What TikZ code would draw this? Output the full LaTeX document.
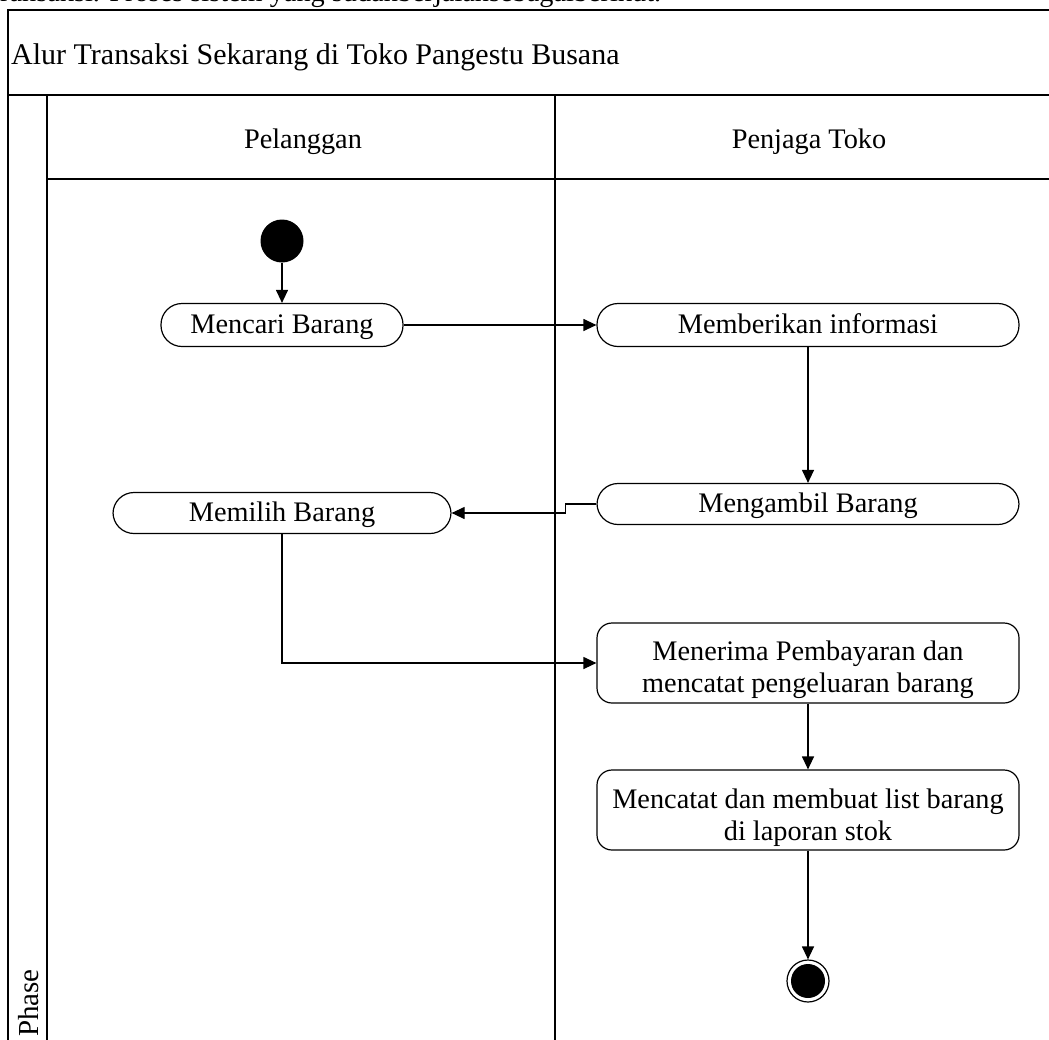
\documentclass[tikz,border=0pt]{standalone}
\usepackage{fontspec}
\setmainfont{Liberation Serif}
\usetikzlibrary{arrows.meta}
\begin{document}
\begin{tikzpicture}[x=1pt,y=-1pt,
  every node/.style={font=\fontsize{28.3}{32}\selectfont},
  lane/.style={line width=1.6pt},
  act/.style={draw, line width=1.2pt, rounded corners=21pt, minimum height=43pt, inner sep=0pt, text height=19.5pt, text depth=2pt},
  act2/.style={draw, line width=1.2pt, rounded corners=15pt, minimum height=80pt, minimum width=422pt, inner sep=0pt, align=center},
  flow/.style={line width=1.2pt, -{Triangle[length=13pt,width=12pt]}}]
\useasboundingbox (0,0) rectangle (1049,1039);
\clip (0,0) rectangle (1049,1039);
\fill[white] (0,0) rectangle (1049,1039);
% cropped text above
\node[anchor=base west, inner sep=0pt] (toptext) at (0,1) {ransaksi. Proses sistem yang sudahberjalansebagaiberikut.};
% pool
\draw[lane] (1060,10) -- (8,10) -- (8,1050);
\draw[lane] (8,95) -- (1060,95);
\draw[lane] (47,179) -- (1060,179);
\draw[lane] (47,95) -- (47,1050);
\draw[lane] (555,95) -- (555,1050);
\node[anchor=base west, inner sep=0pt, font=\fontsize{30}{34}\selectfont] (title) at (11,64) {Alur Transaksi Sekarang di Toko Pangestu Busana};
\node (pel) at (303,142) {Pelanggan};
\node (pen) at (809,142) {Penjaga Toko};
\node[rotate=90, anchor=base west, inner sep=0pt, font=\fontsize{29}{32}\selectfont] (phase) at (38,1037) {Phase};
% nodes
\node[circle, fill=black, minimum size=43pt, inner sep=0pt] (start) at (282,241) {};
\node[act, minimum width=242pt] (mencari) at (282,325) {Mencari Barang};
\node[act, minimum width=422pt] (memberi) at (808,325) {Memberikan informasi};
\node[act, minimum width=422pt, minimum height=41pt] (mengambil) at (808,504) {Mengambil Barang};
\node[act, minimum width=338pt, minimum height=41pt] (memilih) at (282,513) {Memilih Barang};
\node[act2] (menerima) at (808,663) {\rule{0pt}{34pt}Menerima Pembayaran dan\\mencatat pengeluaran barang};
\node[act2] (mencatat) at (808,810) {\rule{0pt}{34pt}Mencatat dan membuat list barang\\di laporan stok};
\node[circle, draw, line width=1.2pt, minimum size=42pt, inner sep=0pt] (end) at (808,981) {};
\fill (end.center) circle (17pt);
% flows
\draw[flow] (start) -- (mencari);
\draw[flow] (mencari) -- (memberi);
\draw[flow] (memberi) -- (mengambil);
\draw[flow] (mengambil.west) -- ++(-31,0) |- (memilih.east);
\draw[flow] (memilih.south) |- (menerima.west);
\draw[flow] (menerima) -- (mencatat);
\draw[flow] (mencatat) -- (end);
\end{tikzpicture}
\end{document}
